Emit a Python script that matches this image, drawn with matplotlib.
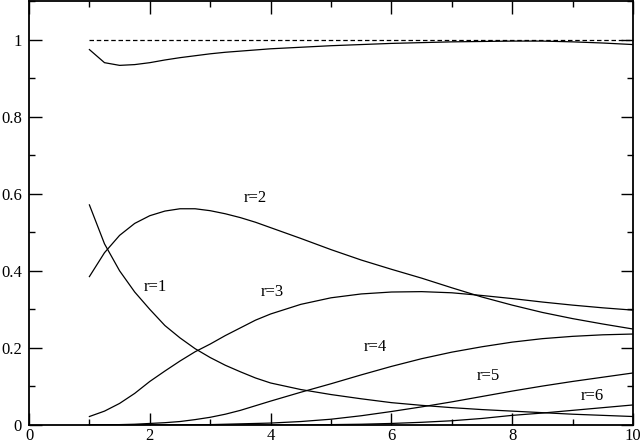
import numpy as np
import matplotlib
matplotlib.use("Agg")
import matplotlib.pyplot as plt
from matplotlib.ticker import MultipleLocator, FormatStrFormatter

plt.rcParams['font.family'] = ['Liberation Serif', 'DejaVu Serif']

x = [1, 1.25, 1.5, 1.75, 2, 2.25, 2.5, 2.75, 3, 3.25, 3.5, 3.75, 4,
     4.5, 5, 5.5, 6, 6.5, 7, 7.5, 8, 8.5, 9, 9.5, 10]

total = [0.974, 0.940, 0.933, 0.935, 0.940, 0.947, 0.953, 0.958, 0.963, 0.967, 0.970, 0.973, 0.976,
         0.980, 0.984, 0.987, 0.990, 0.992, 0.994, 0.995, 0.996, 0.996, 0.994, 0.991, 0.987]
r1 = [0.571, 0.470, 0.400, 0.345, 0.300, 0.258, 0.226, 0.198, 0.175, 0.155, 0.138, 0.122, 0.109,
      0.092, 0.079, 0.068, 0.058, 0.051, 0.045, 0.040, 0.036, 0.032, 0.028, 0.025, 0.022]
r2 = [0.385, 0.447, 0.492, 0.523, 0.543, 0.555, 0.561, 0.561, 0.556, 0.548, 0.538, 0.526, 0.512,
      0.484, 0.455, 0.428, 0.404, 0.381, 0.356, 0.332, 0.311, 0.292, 0.276, 0.262, 0.249]
r3 = [0.022, 0.036, 0.056, 0.082, 0.113, 0.140, 0.166, 0.190, 0.210, 0.232, 0.252, 0.272, 0.288,
      0.313, 0.330, 0.340, 0.345, 0.346, 0.343, 0.336, 0.328, 0.319, 0.311, 0.304, 0.298]
r4 = [0.000, 0.000, 0.001, 0.002, 0.004, 0.006, 0.009, 0.014, 0.020, 0.028, 0.038, 0.050, 0.062,
      0.085, 0.107, 0.130, 0.152, 0.172, 0.189, 0.203, 0.215, 0.224, 0.230, 0.234, 0.236]
r5 = [0.000, 0.000, 0.000, 0.000, 0.000, 0.000, 0.000, 0.001, 0.001, 0.002, 0.003, 0.004, 0.005,
      0.009, 0.015, 0.024, 0.035, 0.047, 0.060, 0.074, 0.088, 0.101, 0.113, 0.124, 0.135]
r6 = [0.000, 0.000, 0.000, 0.000, 0.000, 0.000, 0.000, 0.000, 0.000, 0.000, 0.000, 0.000, 0.000,
      0.000, 0.001, 0.002, 0.004, 0.007, 0.011, 0.017, 0.025, 0.031, 0.038, 0.045, 0.052]
reference = [1.0] * len(x)

labels = ["r=1", "r=2", "r=3", "r=4", "r=5", "r=6"]

fig = plt.figure(figsize=(6.43, 4.45), dpi=100)
ax = fig.add_axes([29 / 643, 1 - 425 / 445, 604 / 643, 424 / 445])

lw = 0.9
ax.plot(x, reference, color="black", lw=lw, dashes=(3.6, 2.2))
ax.plot(x, total, color="black", lw=lw)
for ys in (r1, r2, r3, r4, r5, r6):
    ax.plot(x, ys, color="black", lw=lw)

ax.text(2.09, 0.359, labels[0], fontsize=12, ha="center", va="center")
ax.text(3.74, 0.590, labels[1], fontsize=12, ha="center", va="center")
ax.text(4.02, 0.345, labels[2], fontsize=12, ha="center", va="center")
ax.text(5.73, 0.202, labels[3], fontsize=12, ha="center", va="center")
ax.text(7.60, 0.128, labels[4], fontsize=12, ha="center", va="center")
ax.text(9.32, 0.074, labels[5], fontsize=12, ha="center", va="center")

ax.set_xlim(0, 10)
ax.set_ylim(0, 1.1)
ax.xaxis.set_major_locator(MultipleLocator(2))
ax.xaxis.set_minor_locator(MultipleLocator(1))
ax.yaxis.set_major_locator(MultipleLocator(0.2))
ax.yaxis.set_minor_locator(MultipleLocator(0.1))
ax.xaxis.set_major_formatter(FormatStrFormatter("%g"))
ax.yaxis.set_major_formatter(FormatStrFormatter("%g"))
ax.tick_params(which="both", direction="in", top=True, right=True, labelsize=12, width=1.0)
ax.tick_params(which="major", length=9)
ax.tick_params(which="minor", length=4.5)
ax.tick_params(axis="x", which="major", pad=2)
ax.tick_params(axis="y", which="major", pad=5)
for s in ax.spines.values():
    s.set_linewidth(1.3)

fig.savefig("out.png", dpi=100)
